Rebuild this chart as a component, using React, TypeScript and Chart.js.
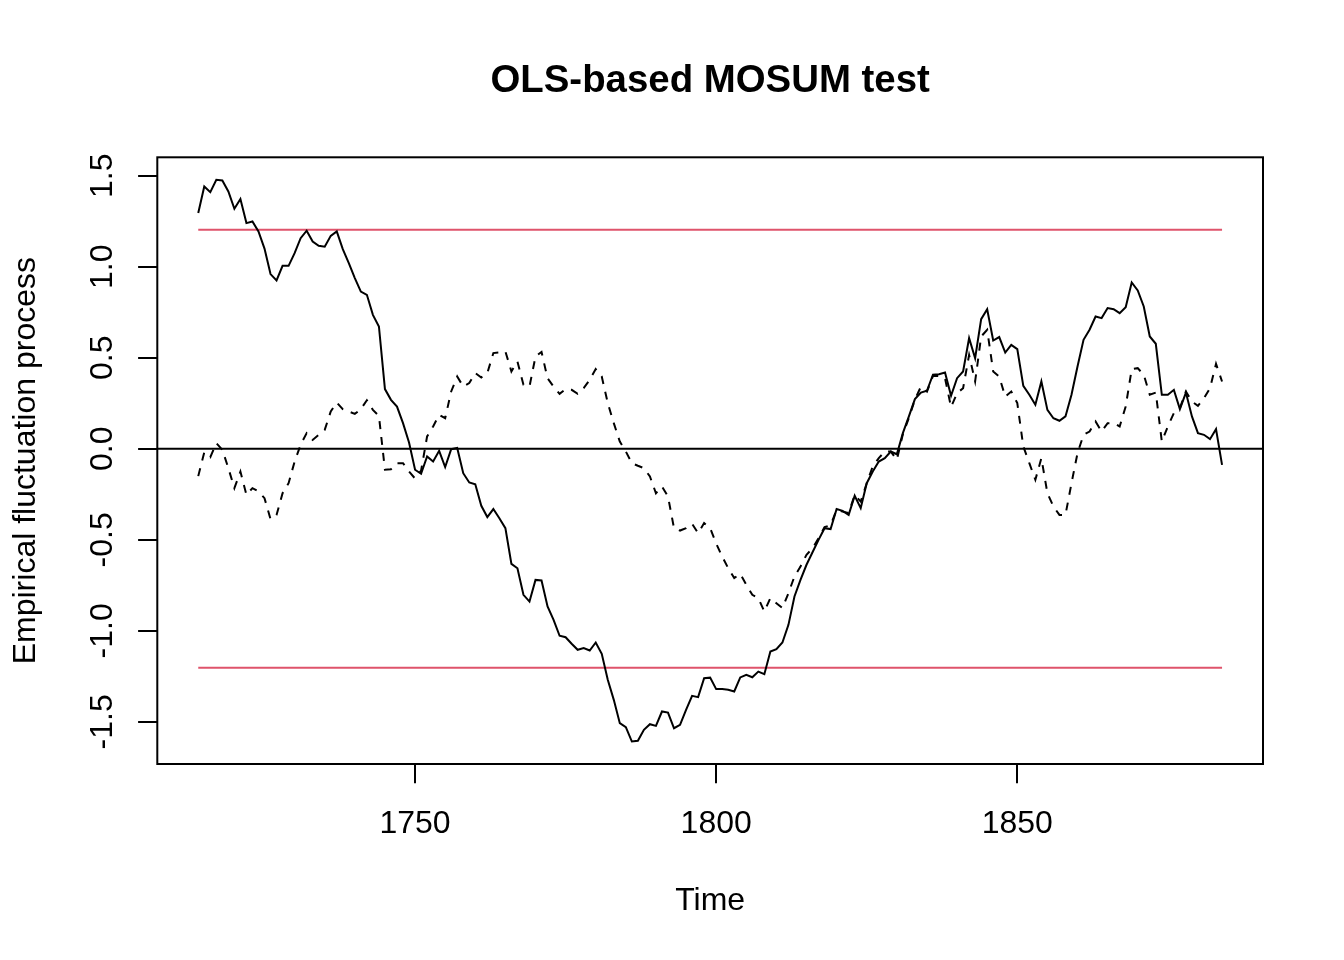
import React, { useEffect, useRef } from "react";
import { Chart, registerables } from "chart.js";

Chart.register(...registerables);

const startYear = 1714;
const processA = [
  1.295, 1.441, 1.41, 1.478, 1.474, 1.414, 1.319, 1.372, 1.24, 1.249,
  1.194, 1.1, 0.96, 0.925, 1.005, 1.005, 1.075, 1.157, 1.198, 1.139,
  1.115, 1.11, 1.17, 1.194, 1.097, 1.02, 0.938, 0.864, 0.846, 0.736,
  0.672, 0.328, 0.269, 0.232, 0.141, 0.035, -0.115, -0.137, -0.042, -0.07,
  -0.011, -0.1, -0.002, 0.005, -0.134, -0.185, -0.195, -0.313, -0.375, -0.331,
  -0.381, -0.436, -0.632, -0.656, -0.802, -0.839, -0.72, -0.723, -0.866, -0.94,
  -1.027, -1.035, -1.071, -1.104, -1.095, -1.108, -1.064, -1.126, -1.269, -1.379,
  -1.507, -1.529, -1.608, -1.604, -1.544, -1.513, -1.522, -1.443, -1.449, -1.535,
  -1.516, -1.434, -1.357, -1.364, -1.26, -1.257, -1.32, -1.32, -1.324, -1.333,
  -1.256, -1.242, -1.255, -1.224, -1.238, -1.114, -1.1, -1.064, -0.967, -0.811,
  -0.72, -0.637, -0.568, -0.5, -0.436, -0.441, -0.331, -0.341, -0.363, -0.258,
  -0.326, -0.189, -0.125, -0.07, -0.051, -0.015, -0.03, 0.086, 0.178, 0.273,
  0.309, 0.319, 0.407, 0.41, 0.419, 0.291, 0.388, 0.425, 0.608, 0.498,
  0.712, 0.767, 0.595, 0.614, 0.529, 0.571, 0.548, 0.346, 0.297, 0.242,
  0.37, 0.214, 0.168, 0.154, 0.178, 0.297, 0.452, 0.599, 0.654, 0.727,
  0.718, 0.773, 0.767, 0.745, 0.778, 0.914, 0.87, 0.782, 0.617, 0.577,
  0.297, 0.297, 0.324, 0.218, 0.309, 0.178, 0.086, 0.077, 0.053, 0.108,
  -0.088,
];
const processB = [
  -0.15, -0.02, -0.046, 0.031, -0.005, -0.106, -0.216, -0.125, -0.253, -0.216,
  -0.234, -0.271, -0.386, -0.363, -0.244, -0.189, -0.07, 0.022, 0.086, 0.049,
  0.077, 0.104, 0.205, 0.254, 0.218, 0.205, 0.192, 0.218, 0.267, 0.214,
  0.181, -0.115, -0.112, -0.079, -0.079, -0.125, -0.163, -0.12, 0.068, 0.123,
  0.187, 0.168, 0.315, 0.397, 0.342, 0.361, 0.416, 0.392, 0.416, 0.526,
  0.529, 0.535, 0.425, 0.48, 0.352, 0.342, 0.507, 0.532, 0.388, 0.342,
  0.302, 0.328, 0.324, 0.302, 0.333, 0.379, 0.438, 0.397, 0.251, 0.141,
  0.04, -0.015, -0.079, -0.093, -0.106, -0.152, -0.244, -0.207, -0.262, -0.436,
  -0.449, -0.436, -0.412, -0.463, -0.408, -0.436, -0.52, -0.592, -0.656, -0.71,
  -0.687, -0.747, -0.802, -0.82, -0.894, -0.82, -0.848, -0.875, -0.793, -0.701,
  -0.647, -0.582, -0.546, -0.491, -0.43, -0.42, -0.335, -0.345, -0.353, -0.253,
  -0.29, -0.189, -0.097, -0.051, -0.015, -0.015, -0.06, 0.08, 0.17, 0.27,
  0.342, 0.314, 0.4, 0.4, 0.388, 0.229, 0.306, 0.333, 0.516, 0.37,
  0.617, 0.654, 0.425, 0.397, 0.287, 0.315, 0.251, 0.013, -0.079, -0.17,
  -0.051, -0.244, -0.317, -0.363, -0.363, -0.189, -0.024, 0.077, 0.095, 0.15,
  0.095, 0.141, 0.141, 0.123, 0.232, 0.438, 0.443, 0.407, 0.297, 0.309,
  0.04, 0.123, 0.196, 0.224, 0.315, 0.26, 0.236, 0.278, 0.333, 0.467,
  0.37,
];
const boundary = 1.203;
const xTicks = [1750, 1800, 1850];
const yTicks = [-1.5, -1.0, -0.5, 0.0, 0.5, 1.0, 1.5];
const yTickLabels = ["-1.5", "-1.0", "-0.5", "0.0", "0.5", "1.0", "1.5"];
const titleText = "OLS-based MOSUM test";
const xTitle = "Time";
const yTitle = "Empirical fluctuation process";

const FONT = "'Liberation Sans', Arial, Helvetica, sans-serif";

export default function App() {
  const ref = useRef<HTMLCanvasElement | null>(null);

  useEffect(() => {
    document.body.style.margin = "0";
    document.body.style.overflow = "hidden";
    const canvas = ref.current;
    if (!canvas) return;

    const years = processA.map((_, i) => startYear + i);
    const first = years[0];
    const last = years[years.length - 1];
    const span = last - first;
    const xMin = first - 0.04 * span;
    const xMax = last + 0.04 * span;
    const all = processA.concat(processB);
    const dMin = Math.min(...all);
    const dMax = Math.max(...all);
    const yMin = dMin - 0.04 * (dMax - dMin);
    const yMax = dMax + 0.04 * (dMax - dMin);

    const textPlugin = {
      id: "rtext",
      afterDraw(chart: any) {
        const ctx = chart.ctx;
        const area = chart.chartArea;
        const xs = chart.scales.x;
        const ys = chart.scales.y;
        ctx.save();
        // box
        ctx.strokeStyle = "#000";
        ctx.lineWidth = 2;
        ctx.strokeRect(area.left, area.top, area.right - area.left, area.bottom - area.top);
        ctx.fillStyle = "#000";
        const cx = (area.left + area.right) / 2;
        const cy = (area.top + area.bottom) / 2;
        // title
        ctx.font = `bold 38.4px ${FONT}`;
        ctx.textAlign = "center";
        ctx.textBaseline = "alphabetic";
        ctx.fillText(titleText, cx, 92);
        // x tick labels
        ctx.font = `32px ${FONT}`;
        xTicks.forEach((t) => {
          ctx.fillText(String(t), xs.getPixelForValue(t), area.bottom + 69);
        });
        // x title
        ctx.fillText(xTitle, cx, area.bottom + 146);
        // y tick labels (rotated)
        yTicks.forEach((t, i) => {
          ctx.save();
          ctx.translate(area.left - 45.5, ys.getPixelForValue(t));
          ctx.rotate(-Math.PI / 2);
          ctx.fillText(yTickLabels[i], 0, 0);
          ctx.restore();
        });
        // y title
        ctx.save();
        ctx.translate(area.left - 122, cy);
        ctx.rotate(-Math.PI / 2);
        ctx.fillText(yTitle, 0, 0);
        ctx.restore();
        ctx.restore();
      },
    };

    const chart = new Chart(canvas, {
      type: "line",
      data: {
        datasets: [
          {
            data: years.map((y, i) => ({ x: y, y: processA[i] })),
            borderColor: "#000",
            borderWidth: 2,
            pointRadius: 0,
            tension: 0,
          },
          {
            data: years.map((y, i) => ({ x: y, y: processB[i] })),
            borderColor: "#000",
            borderWidth: 2,
            borderDash: [8, 8],
            pointRadius: 0,
            tension: 0,
          },
          {
            data: [
              { x: first, y: boundary },
              { x: last, y: boundary },
            ],
            borderColor: "#DF536B",
            borderWidth: 2,
            pointRadius: 0,
          },
          {
            data: [
              { x: first, y: -boundary },
              { x: last, y: -boundary },
            ],
            borderColor: "#DF536B",
            borderWidth: 2,
            pointRadius: 0,
          },
          {
            data: [
              { x: xMin, y: 0 },
              { x: xMax, y: 0 },
            ],
            borderColor: "#000",
            borderWidth: 2,
            pointRadius: 0,
          },
        ],
      },
      options: {
        responsive: false,
        animation: false,
        devicePixelRatio: 1,
        layout: { padding: { top: 157.3, right: 81, left: 0, bottom: 0 } },
        plugins: {
          legend: { display: false },
          title: { display: false },
          tooltip: { enabled: false },
        },
        scales: {
          x: {
            type: "linear",
            min: xMin,
            max: xMax,
            afterBuildTicks: (s: any) => {
              s.ticks = xTicks.map((v) => ({ value: v }));
            },
            afterFit: (s: any) => {
              s.height = 196;
            },
            grid: {
              drawOnChartArea: false,
              drawTicks: true,
              tickLength: 19.2,
              color: "#000",
              lineWidth: 2,
            },
            border: { display: false },
            ticks: { display: false },
          },
          y: {
            type: "linear",
            min: yMin,
            max: yMax,
            afterBuildTicks: (s: any) => {
              s.ticks = yTicks.map((v) => ({ value: v }));
            },
            afterFit: (s: any) => {
              s.width = 157.3;
            },
            grid: {
              drawOnChartArea: false,
              drawTicks: true,
              tickLength: 19.2,
              color: "#000",
              lineWidth: 2,
            },
            border: { display: false },
            ticks: { display: false },
          },
        },
      },
      plugins: [textPlugin],
    });

    return () => chart.destroy();
  }, []);

  return (
    <div style={{ width: 1344, height: 960, background: "#fff" }}>
      <canvas ref={ref} width={1344} height={960} style={{ width: 1344, height: 960, display: "block" }} />
    </div>
  );
}
